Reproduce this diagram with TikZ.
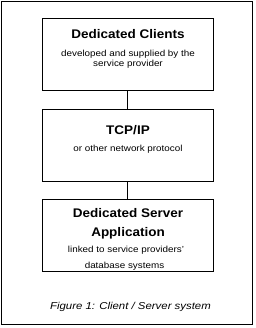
\documentclass[tikz,border=0pt]{standalone}
\usepackage{fontspec}
\setmainfont{Liberation Sans}
\newfontfamily\titlefam{Liberation Sans}[FakeStretch=1.08]
\newfontfamily\subfam{Liberation Sans}[FakeStretch=1.12]
\newfontfamily\capfam{Liberation Sans}[FakeStretch=1.14]
\begin{document}
\begin{tikzpicture}[x=1pt,y=-1pt,
  boxnode/.style={draw=black,line width=1pt,inner sep=0pt,minimum width=171pt,minimum height=72pt},
  titletext/.style={anchor=base,inner sep=0pt,font=\titlefam\fontsize{12.5}{14}\selectfont\bfseries},
  subtext/.style={anchor=base,inner sep=0pt,font=\subfam\fontsize{8.8}{10}\selectfont},
  captext/.style={anchor=base,inner sep=0pt,font=\capfam\fontsize{10}{12}\selectfont\itshape},
  link/.style={draw=black,line width=1pt}]
\useasboundingbox (0,0) rectangle (256,328);
\node[draw=black,line width=1.4pt,inner sep=0pt,minimum width=251.5pt,minimum height=323.5pt] (frame) at (127,163) {};
\node[boxnode] (b1) at (127.5,55) {};
\node[boxnode] (b2) at (127.5,145.5) {};
\node[boxnode] (b3) at (127.5,235.5) {};
\draw[link] (b1.south) -- (b2.north);
\draw[link] (b2.south) -- (b3.north);
\node[titletext] (t1) at (128,38.3) {Dedicated Clients};
\node[subtext] (s1a) at (128,56.7) {developed and supplied by the};
\node[subtext] (s1b) at (128,66.7) {service provider};
\node[titletext] (t2) at (128,134.3) {TCP/IP};
\node[subtext] (s2) at (128,151.7) {or other network protocol};
\node[titletext] (t3a) at (128,217) {Dedicated Server};
\node[titletext] (t3b) at (128,236) {Application};
\node[subtext] (s3a) at (126,252.7) {linked to service providers’};
\node[subtext] (s3b) at (124.5,268.3) {database systems};
\node[captext] (cap) at (130.5,309.7) {Figure 1: Client / Server system};
\end{tikzpicture}
\end{document}
